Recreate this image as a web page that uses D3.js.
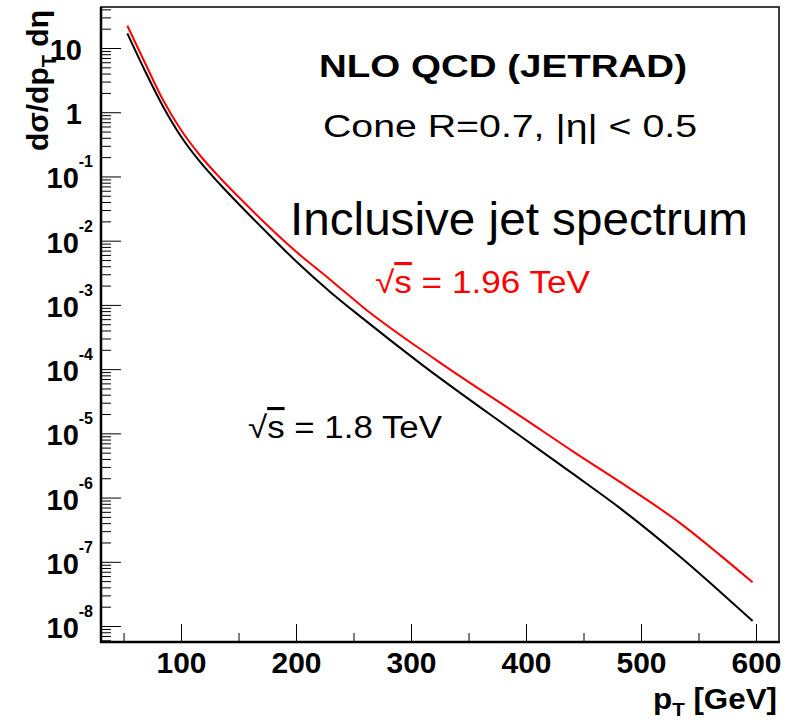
<!DOCTYPE html>
<html>
<head>
<meta charset="utf-8">
<script src="https://cdn.jsdelivr.net/npm/d3@7"></script>
<style>
  body { margin: 0; background: #fff; }
  svg { display: block; }
  text { font-family: "Liberation Sans", Arial, Helvetica, sans-serif; }
</style>
</head>
<body>
<svg id="chart" width="794" height="721"></svg>
<script>
// ---- data ----
const ptBlack = [53.3, 68.7, 84.6, 100, 116.6, 134, 151.4, 175, 200.7, 230, 258, 308, 395, 440, 482, 534, 569, 597];
const xsec1800 = [16.9, 4.39, 1.21, 0.419, 0.168, 0.0749, 0.0353, 0.0132, 4.66e-3, 1.58e-3, 6.17e-4, 1.23e-4, 9.1e-6, 2.4e-6, 6.8e-7, 1.2e-7, 3.4e-8, 1.2e-8];
const ptRed = [53.3, 68.7, 84.6, 100, 116.6, 134, 151.4, 175, 200.7, 230, 258, 322, 400, 441, 482, 534, 569, 597];
const xsec1960 = [22.2, 5.84, 1.52, 0.529, 0.212, 0.0947, 0.0453, 0.0174, 6.6e-3, 2.45e-3, 9.3e-4, 1.38e-4, 1.62e-5, 5.2e-6, 1.74e-6, 4.0e-7, 1.26e-7, 4.8e-8];
const xTickLabels = [100, 200, 300, 400, 500, 600];
const xMinorTicks = [50, 150, 250, 350, 450, 550];
const yTickExponents = [1, 0, -1, -2, -3, -4, -5, -6, -7, -8];

// ---- layout ----
const svg = d3.select("#chart");
const L = 101, R = 779, T = 7, B = 642;
const x = d3.scaleLinear().domain([30.4, 620]).range([L, R]);
const y = d3.scaleLog().domain([5.64e-9, 43.5]).range([B, T]);

// minor y ticks
const yMinor = [];
for (let e = -9; e <= 1; e++) for (let k = 2; k <= 9; k++) {
  const v = k * Math.pow(10, e);
  if (v > y.domain()[0] && v < y.domain()[1]) yMinor.push(v);
}

// y axis ticks
svg.append("g").attr("transform", `translate(${L},0)`)
  .call(d3.axisLeft(y).tickValues(yMinor).tickSize(-10).tickFormat(""))
  .call(g => g.select(".domain").remove());
svg.append("g").attr("transform", `translate(${L},0)`)
  .call(d3.axisLeft(y).tickValues(yTickExponents.map(e => Math.pow(10, e))).tickSize(-20).tickFormat(""))
  .call(g => g.select(".domain").remove());

// x axis ticks
svg.append("g").attr("transform", `translate(0,${B})`)
  .call(d3.axisBottom(x).tickValues(xMinorTicks).tickSize(-9).tickFormat(""))
  .call(g => g.select(".domain").remove());
svg.append("g").attr("transform", `translate(0,${B})`)
  .call(d3.axisBottom(x).tickValues(xTickLabels).tickSize(-18).tickPadding(10)
        .tickFormat(d3.format("d")))
  .call(g => g.select(".domain").remove())
  .call(g => g.selectAll("text").attr("font-size", 29).attr("font-weight", "bold")
        .attr("fill", "#000").attr("font-family", "Liberation Sans, Arial, sans-serif")
        .attr("textLength", 50).attr("lengthAdjust", "spacingAndGlyphs"));

svg.selectAll(".tick line").attr("stroke", "#000").attr("stroke-width", 1);

// y labels
yTickExponents.forEach(e => {
  const yy = y(Math.pow(10, e)) + 12;
  if (e === 0 || e === 1) {
    svg.append("text").attr("x", 82).attr("y", yy).attr("text-anchor", "end")
      .attr("font-size", 29).attr("font-weight", "bold").text(e === 1 ? "10" : "1");
  } else {
    const t = svg.append("text").attr("x", 93).attr("y", yy).attr("text-anchor", "end")
      .attr("font-weight", "bold");
    t.append("tspan").attr("font-size", 29).text("10");
    t.append("tspan").attr("font-size", 16).attr("dy", -21).text(String(e));
  }
});

// frame
svg.append("rect").attr("x", L).attr("y", T).attr("width", R - L).attr("height", B - T)
  .attr("fill", "none").attr("stroke", "#000").attr("stroke-width", 1.5);
svg.append("line").attr("x1", L).attr("x2", L).attr("y1", T).attr("y2", B + 1).attr("stroke", "#000").attr("stroke-width", 2.5);
svg.append("line").attr("x1", L - 1).attr("x2", R + 1).attr("y1", B).attr("y2", B).attr("stroke", "#000").attr("stroke-width", 2.5);

// curves
const line = d3.line().x(d => x(d[0])).y(d => y(d[1])).curve(d3.curveMonotoneX);
svg.append("path").datum(ptBlack.map((p, i) => [p, xsec1800[i]]))
  .attr("d", line).attr("fill", "none").attr("stroke", "#000").attr("stroke-width", 2);
svg.append("path").datum(ptRed.map((p, i) => [p, xsec1960[i]]))
  .attr("d", line).attr("fill", "none").attr("stroke", "#ff0000").attr("stroke-width", 2);

// annotations
svg.append("text").attr("x", 319).attr("y", 77).attr("font-size", 31).attr("font-weight", "bold")
  .attr("textLength", 368).attr("lengthAdjust", "spacingAndGlyphs").text("NLO QCD (JETRAD)");
svg.append("text").attr("x", 323).attr("y", 137).attr("font-size", 31)
  .attr("textLength", 374).attr("lengthAdjust", "spacingAndGlyphs").text("Cone R=0.7, |η| < 0.5");
svg.append("text").attr("x", 290).attr("y", 235).attr("font-size", 46)
  .attr("textLength", 458).attr("lengthAdjust", "spacingAndGlyphs").text("Inclusive jet spectrum");

function sqrtLabel(xp, yp, len, color, rest) {
  const t = svg.append("text").attr("x", xp).attr("y", yp).attr("font-size", 31).attr("fill", color)
    .attr("textLength", len).attr("lengthAdjust", "spacingAndGlyphs");
  t.append("tspan").text("√");
  t.append("tspan").style("text-decoration", "overline").text("s");
  t.append("tspan").text(rest);
}
sqrtLabel(375, 293, 215, "#ff0000", " = 1.96 TeV");
sqrtLabel(248, 438, 194, "#000", " = 1.8 TeV");

// axis titles
const yt = svg.append("text").attr("transform", "translate(48,10) rotate(-90)")
  .attr("text-anchor", "end").attr("font-size", 30).attr("font-weight", "bold");
yt.append("tspan").text("dσ/dp");
yt.append("tspan").attr("font-size", 20).attr("dy", 8).text("T");
yt.append("tspan").attr("dy", -8).text(" dη");

const xt = svg.append("text").attr("x", 777).attr("y", 709).attr("text-anchor", "end")
  .attr("font-size", 29).attr("font-weight", "bold")
  .attr("textLength", 124).attr("lengthAdjust", "spacingAndGlyphs");
xt.append("tspan").text("p");
xt.append("tspan").attr("font-size", 19).attr("dy", 7).text("T");
xt.append("tspan").attr("dy", -7).text(" [GeV]");
</script>
</body>
</html>
